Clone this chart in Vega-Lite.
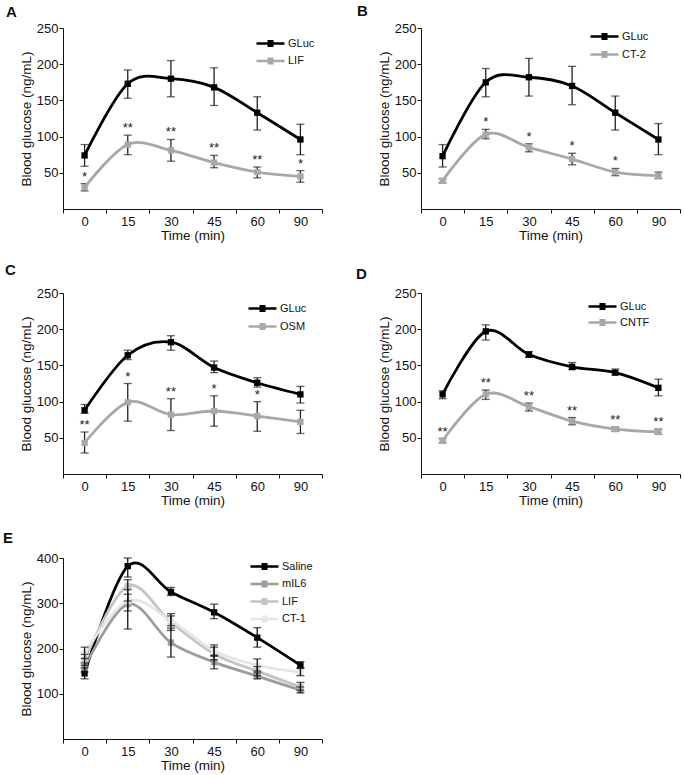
{
  "$schema": "https://vega.github.io/schema/vega-lite/v6.json",
  "background": "white",
  "padding": {"left": 3, "top": 4, "right": 5, "bottom": 5},
  "columns": 2,
  "spacing": {"row": 84, "column": 99},
  "bounds": "flush",
  "resolve": {"scale": {"color": "independent"}, "legend": {"color": "independent"}},
  "config": {
    "font": "Liberation Sans",
    "view": {"stroke": null},
    "axis": {
      "labelFont": "Liberation Sans",
      "titleFont": "Liberation Sans",
      "labelFontSize": 13,
      "titleFontSize": 13.5,
      "titleFontWeight": "normal",
      "labelColor": "#111",
      "titleColor": "#111",
      "domainColor": "#111",
      "tickColor": "#111",
      "grid": false,
      "tickSize": 4
    },
    "axisX": {"tickBand": "extent", "labelAngle": 0, "labelPadding": 2, "titlePadding": 0},
    "axisY": {"labelPadding": 1, "titlePadding": 3},
    "legend": {
      "orient": "none",
      "title": null,
      "symbolType": "M-3,0H1M-1.43,-0.3H-0.57M-1.43,-0.15H-0.57M-1.43,0H-0.57M-1.43,0.15H-0.57M-1.43,0.3H-0.57",
      "symbolSize": 196,
      "symbolStrokeWidth": 2.6,
      "labelFont": "Liberation Sans",
      "labelFontSize": 11,
      "labelColor": "#111",
      "labelOffset": 2,
      "rowPadding": 1.5,
      "padding": 0
    },
    "title": {"anchor": "start", "frame": "group", "font": "Liberation Sans", "fontSize": 15, "fontWeight": "bold", "color": "#111"}
  },
  "datasets": {
    "A": [
      {"t": 0, "series": "GLuc", "mean": 74, "lo": 59, "hi": 89, "sig": ""},
      {"t": 15, "series": "GLuc", "mean": 173, "lo": 153, "hi": 192, "sig": ""},
      {"t": 30, "series": "GLuc", "mean": 180, "lo": 155, "hi": 205, "sig": ""},
      {"t": 45, "series": "GLuc", "mean": 168, "lo": 143, "hi": 195, "sig": ""},
      {"t": 60, "series": "GLuc", "mean": 133, "lo": 109, "hi": 155, "sig": ""},
      {"t": 90, "series": "GLuc", "mean": 96, "lo": 75, "hi": 117, "sig": ""},
      {"t": 0, "series": "LIF", "mean": 30, "lo": 25, "hi": 35, "sig": "*"},
      {"t": 15, "series": "LIF", "mean": 89, "lo": 75, "hi": 102, "sig": "**"},
      {"t": 30, "series": "LIF", "mean": 81, "lo": 66, "hi": 96, "sig": "**"},
      {"t": 45, "series": "LIF", "mean": 64, "lo": 57, "hi": 74, "sig": "**"},
      {"t": 60, "series": "LIF", "mean": 51, "lo": 43, "hi": 58, "sig": "**"},
      {"t": 90, "series": "LIF", "mean": 45, "lo": 37, "hi": 53, "sig": "*"}
    ],
    "B": [
      {"t": 0, "series": "GLuc", "mean": 73, "lo": 58, "hi": 89, "sig": ""},
      {"t": 15, "series": "GLuc", "mean": 175, "lo": 155, "hi": 194, "sig": ""},
      {"t": 30, "series": "GLuc", "mean": 182, "lo": 156, "hi": 208, "sig": ""},
      {"t": 45, "series": "GLuc", "mean": 170, "lo": 144, "hi": 197, "sig": ""},
      {"t": 60, "series": "GLuc", "mean": 133, "lo": 109, "hi": 156, "sig": ""},
      {"t": 90, "series": "GLuc", "mean": 96, "lo": 75, "hi": 118, "sig": ""},
      {"t": 0, "series": "CT-2", "mean": 39, "lo": 36, "hi": 42, "sig": ""},
      {"t": 15, "series": "CT-2", "mean": 103, "lo": 97, "hi": 110, "sig": "*"},
      {"t": 30, "series": "CT-2", "mean": 85, "lo": 79, "hi": 90, "sig": "*"},
      {"t": 45, "series": "CT-2", "mean": 69, "lo": 61, "hi": 77, "sig": "*"},
      {"t": 60, "series": "CT-2", "mean": 51, "lo": 46, "hi": 56, "sig": "*"},
      {"t": 90, "series": "CT-2", "mean": 46, "lo": 42, "hi": 51, "sig": ""}
    ],
    "C": [
      {"t": 0, "series": "GLuc", "mean": 88, "lo": 84, "hi": 96, "sig": ""},
      {"t": 15, "series": "GLuc", "mean": 164, "lo": 158, "hi": 171, "sig": ""},
      {"t": 30, "series": "GLuc", "mean": 182, "lo": 171, "hi": 191, "sig": ""},
      {"t": 45, "series": "GLuc", "mean": 147, "lo": 140, "hi": 156, "sig": ""},
      {"t": 60, "series": "GLuc", "mean": 126, "lo": 120, "hi": 133, "sig": ""},
      {"t": 90, "series": "GLuc", "mean": 110, "lo": 98, "hi": 121, "sig": ""},
      {"t": 0, "series": "OSM", "mean": 43, "lo": 29, "hi": 58, "sig": "**"},
      {"t": 15, "series": "OSM", "mean": 99, "lo": 73, "hi": 125, "sig": "*"},
      {"t": 30, "series": "OSM", "mean": 82, "lo": 60, "hi": 104, "sig": "**"},
      {"t": 45, "series": "OSM", "mean": 87, "lo": 66, "hi": 108, "sig": "*"},
      {"t": 60, "series": "OSM", "mean": 80, "lo": 59, "hi": 100, "sig": "*"},
      {"t": 90, "series": "OSM", "mean": 72, "lo": 56, "hi": 88, "sig": ""}
    ],
    "D": [
      {"t": 0, "series": "GLuc", "mean": 110, "lo": 104, "hi": 115, "sig": ""},
      {"t": 15, "series": "GLuc", "mean": 197, "lo": 185, "hi": 206, "sig": ""},
      {"t": 30, "series": "GLuc", "mean": 165, "lo": 161, "hi": 169, "sig": ""},
      {"t": 45, "series": "GLuc", "mean": 148, "lo": 144, "hi": 154, "sig": ""},
      {"t": 60, "series": "GLuc", "mean": 140, "lo": 137, "hi": 145, "sig": ""},
      {"t": 90, "series": "GLuc", "mean": 119, "lo": 108, "hi": 131, "sig": ""},
      {"t": 0, "series": "CNTF", "mean": 46, "lo": 43, "hi": 49, "sig": "**"},
      {"t": 15, "series": "CNTF", "mean": 110, "lo": 103, "hi": 116, "sig": "**"},
      {"t": 30, "series": "CNTF", "mean": 93, "lo": 87, "hi": 98, "sig": "**"},
      {"t": 45, "series": "CNTF", "mean": 73, "lo": 68, "hi": 78, "sig": "**"},
      {"t": 60, "series": "CNTF", "mean": 62, "lo": 59, "hi": 65, "sig": "**"},
      {"t": 90, "series": "CNTF", "mean": 58, "lo": 55, "hi": 62, "sig": "**"}
    ],
    "E": [
      {"t": 0, "series": "Saline", "mean": 145, "lo": 133, "hi": 157},
      {"t": 15, "series": "Saline", "mean": 382, "lo": 358, "hi": 400},
      {"t": 30, "series": "Saline", "mean": 325, "lo": 317, "hi": 335},
      {"t": 45, "series": "Saline", "mean": 280, "lo": 266, "hi": 298},
      {"t": 60, "series": "Saline", "mean": 224, "lo": 203, "hi": 246},
      {"t": 90, "series": "Saline", "mean": 163, "lo": 156, "hi": 171},
      {"t": 0, "series": "mIL6", "mean": 158, "lo": 148, "hi": 168},
      {"t": 15, "series": "mIL6", "mean": 298, "lo": 243, "hi": 320},
      {"t": 30, "series": "mIL6", "mean": 213, "lo": 181, "hi": 245},
      {"t": 45, "series": "mIL6", "mean": 170, "lo": 155, "hi": 183},
      {"t": 60, "series": "mIL6", "mean": 139, "lo": 133, "hi": 146},
      {"t": 90, "series": "mIL6", "mean": 108, "lo": 102, "hi": 115},
      {"t": 0, "series": "LIF", "mean": 175, "lo": 163, "hi": 187},
      {"t": 15, "series": "LIF", "mean": 338, "lo": 305, "hi": 352},
      {"t": 30, "series": "LIF", "mean": 258, "lo": 240, "hi": 277},
      {"t": 45, "series": "LIF", "mean": 188, "lo": 175, "hi": 203},
      {"t": 60, "series": "LIF", "mean": 150, "lo": 140, "hi": 160},
      {"t": 90, "series": "LIF", "mean": 115, "lo": 108, "hi": 125},
      {"t": 0, "series": "CT-1", "mean": 190, "lo": 178, "hi": 203},
      {"t": 15, "series": "CT-1", "mean": 305, "lo": 283, "hi": 330},
      {"t": 30, "series": "CT-1", "mean": 262, "lo": 250, "hi": 272},
      {"t": 45, "series": "CT-1", "mean": 195, "lo": 185, "hi": 208},
      {"t": 60, "series": "CT-1", "mean": 163, "lo": 150, "hi": 177},
      {"t": 90, "series": "CT-1", "mean": 148, "lo": 140, "hi": 157}
    ]
  },
  "concat": [
    {
      "title": {"text": "A", "dx": -57, "offset": 2},
      "width": 259, "height": 181,
      "data": {"name": "A"},
      "encoding": {"x": {"field": "t", "type": "ordinal", "title": "Time (min)", "scale": {"paddingInner": 0, "paddingOuter": 0}}},
      "layer": [
        {"mark": {"type": "errorbar", "ticks": {"size": 8, "thickness": 1.3, "color": "#222"}, "rule": {"strokeWidth": 1.3, "color": "#222"}},
         "encoding": {"y": {"field": "lo", "type": "quantitative", "title": "Blood glucose (ng/mL)", "scale": {"domain": [0, 250]}, "axis": {"values": [50, 100, 150, 200, 250]}}, "y2": {"field": "hi"}}},
        {"mark": {"type": "line", "interpolate": "cardinal", "strokeWidth": 2.8},
         "encoding": {"y": {"field": "mean", "type": "quantitative", "title": "Blood glucose (ng/mL)", "scale": {"domain": [0, 250]}},
           "color": {"field": "series", "type": "nominal", "scale": {"domain": ["GLuc", "LIF"], "range": ["#000000", "#a8a8a8"]}, "legend": {"legendX": 206, "legendY": 7}}}},
        {"mark": {"type": "point", "shape": "square", "filled": true, "size": 40, "opacity": 1},
         "encoding": {"y": {"field": "mean", "type": "quantitative", "title": "Blood glucose (ng/mL)", "scale": {"domain": [0, 250]}},
           "color": {"field": "series", "type": "nominal", "legend": null}}},
        {"mark": {"type": "text", "baseline": "alphabetic", "dy": -3, "fontSize": 13, "color": "#222"},
         "encoding": {"y": {"field": "hi", "type": "quantitative", "title": "Blood glucose (ng/mL)", "scale": {"domain": [0, 250]}}, "text": {"field": "sig"}}}
      ]
    },
    {
      "title": {"text": "B", "dx": -64, "offset": 3},
      "width": 259, "height": 181,
      "data": {"name": "B"},
      "encoding": {"x": {"field": "t", "type": "ordinal", "title": "Time (min)", "scale": {"paddingInner": 0, "paddingOuter": 0}}},
      "layer": [
        {"mark": {"type": "errorbar", "ticks": {"size": 8, "thickness": 1.3, "color": "#222"}, "rule": {"strokeWidth": 1.3, "color": "#222"}},
         "encoding": {"y": {"field": "lo", "type": "quantitative", "title": "Blood glucose (ng/mL)", "scale": {"domain": [0, 250]}, "axis": {"values": [50, 100, 150, 200, 250]}}, "y2": {"field": "hi"}}},
        {"mark": {"type": "line", "interpolate": "cardinal", "strokeWidth": 2.8},
         "encoding": {"y": {"field": "mean", "type": "quantitative", "title": "Blood glucose (ng/mL)", "scale": {"domain": [0, 250]}},
           "color": {"field": "series", "type": "nominal", "scale": {"domain": ["GLuc", "CT-2"], "range": ["#000000", "#a8a8a8"]}, "legend": {"legendX": 182, "legendY": 0, "rowPadding": 2}}}},
        {"mark": {"type": "point", "shape": "square", "filled": true, "size": 40, "opacity": 1},
         "encoding": {"y": {"field": "mean", "type": "quantitative", "title": "Blood glucose (ng/mL)", "scale": {"domain": [0, 250]}},
           "color": {"field": "series", "type": "nominal", "legend": null}}},
        {"mark": {"type": "text", "baseline": "alphabetic", "dy": -3, "fontSize": 13, "color": "#222"},
         "encoding": {"y": {"field": "hi", "type": "quantitative", "title": "Blood glucose (ng/mL)", "scale": {"domain": [0, 250]}}, "text": {"field": "sig"}}}
      ]
    },
    {
      "title": {"text": "C", "dx": -58, "offset": 9},
      "width": 259, "height": 181,
      "data": {"name": "C"},
      "encoding": {"x": {"field": "t", "type": "ordinal", "title": "Time (min)", "scale": {"paddingInner": 0, "paddingOuter": 0}}},
      "layer": [
        {"mark": {"type": "errorbar", "ticks": {"size": 8, "thickness": 1.3, "color": "#222"}, "rule": {"strokeWidth": 1.3, "color": "#222"}},
         "encoding": {"y": {"field": "lo", "type": "quantitative", "title": "Blood glucose (ng/mL)", "scale": {"domain": [0, 250]}, "axis": {"values": [50, 100, 150, 200, 250]}}, "y2": {"field": "hi"}}},
        {"mark": {"type": "line", "interpolate": "cardinal", "strokeWidth": 2.8},
         "encoding": {"y": {"field": "mean", "type": "quantitative", "title": "Blood glucose (ng/mL)", "scale": {"domain": [0, 250]}},
           "color": {"field": "series", "type": "nominal", "scale": {"domain": ["GLuc", "OSM"], "range": ["#000000", "#a8a8a8"]}, "legend": {"legendX": 198, "legendY": 7, "rowPadding": 2}}}},
        {"mark": {"type": "point", "shape": "square", "filled": true, "size": 40, "opacity": 1},
         "encoding": {"y": {"field": "mean", "type": "quantitative", "title": "Blood glucose (ng/mL)", "scale": {"domain": [0, 250]}},
           "color": {"field": "series", "type": "nominal", "legend": null}}},
        {"mark": {"type": "text", "baseline": "alphabetic", "dy": -3, "fontSize": 13, "color": "#222"},
         "encoding": {"y": {"field": "hi", "type": "quantitative", "title": "Blood glucose (ng/mL)", "scale": {"domain": [0, 250]}}, "text": {"field": "sig"}}}
      ]
    },
    {
      "title": {"text": "D", "dx": -65, "offset": 5},
      "width": 259, "height": 181,
      "data": {"name": "D"},
      "encoding": {"x": {"field": "t", "type": "ordinal", "title": "Time (min)", "scale": {"paddingInner": 0, "paddingOuter": 0}}},
      "layer": [
        {"mark": {"type": "errorbar", "ticks": {"size": 8, "thickness": 1.3, "color": "#222"}, "rule": {"strokeWidth": 1.3, "color": "#222"}},
         "encoding": {"y": {"field": "lo", "type": "quantitative", "title": "Blood glucose (ng/mL)", "scale": {"domain": [0, 250]}, "axis": {"values": [50, 100, 150, 200, 250]}}, "y2": {"field": "hi"}}},
        {"mark": {"type": "line", "interpolate": "cardinal", "strokeWidth": 2.8},
         "encoding": {"y": {"field": "mean", "type": "quantitative", "title": "Blood glucose (ng/mL)", "scale": {"domain": [0, 250]}},
           "color": {"field": "series", "type": "nominal", "scale": {"domain": ["GLuc", "CNTF"], "range": ["#000000", "#a8a8a8"]}, "legend": {"legendX": 180, "legendY": 5, "rowPadding": 0}}}},
        {"mark": {"type": "point", "shape": "square", "filled": true, "size": 40, "opacity": 1},
         "encoding": {"y": {"field": "mean", "type": "quantitative", "title": "Blood glucose (ng/mL)", "scale": {"domain": [0, 250]}},
           "color": {"field": "series", "type": "nominal", "legend": null}}},
        {"mark": {"type": "text", "baseline": "alphabetic", "dy": -3, "fontSize": 13, "color": "#222"},
         "encoding": {"y": {"field": "hi", "type": "quantitative", "title": "Blood glucose (ng/mL)", "scale": {"domain": [0, 250]}}, "text": {"field": "sig"}}}
      ]
    },
    {
      "title": {"text": "E", "dx": -60, "offset": 6},
      "width": 259, "height": 181,
      "data": {"name": "E"},
      "encoding": {"x": {"field": "t", "type": "ordinal", "title": "Time (min)", "scale": {"paddingInner": 0, "paddingOuter": 0}}},
      "layer": [
        {"mark": {"type": "line", "interpolate": "cardinal", "strokeWidth": 2.8},
         "encoding": {"y": {"field": "mean", "type": "quantitative", "title": "Blood glucose (ng/mL)", "scale": {"domain": [0, 400]}, "axis": {"values": [100, 200, 300, 400]}},
           "color": {"field": "series", "type": "nominal", "scale": {"domain": ["Saline", "mIL6", "LIF", "CT-1"], "range": ["#000000", "#9c9c9c", "#c4c4c4", "#e6e6e6"]}, "legend": {"legendX": 200, "legendY": 0}},
           "order": {"field": "series", "sort": "descending"}}},
        {"mark": {"type": "point", "shape": "square", "filled": true, "size": 40, "opacity": 1},
         "encoding": {"y": {"field": "mean", "type": "quantitative", "title": "Blood glucose (ng/mL)", "scale": {"domain": [0, 400]}},
           "color": {"field": "series", "type": "nominal", "legend": null}}},
        {"mark": {"type": "errorbar", "ticks": {"size": 8, "thickness": 1.3, "color": "#111"}, "rule": {"strokeWidth": 1.3, "color": "#111"}},
         "encoding": {"y": {"field": "lo", "type": "quantitative", "title": "Blood glucose (ng/mL)", "scale": {"domain": [0, 400]}}, "y2": {"field": "hi"}}}
      ]
    }
  ]
}
